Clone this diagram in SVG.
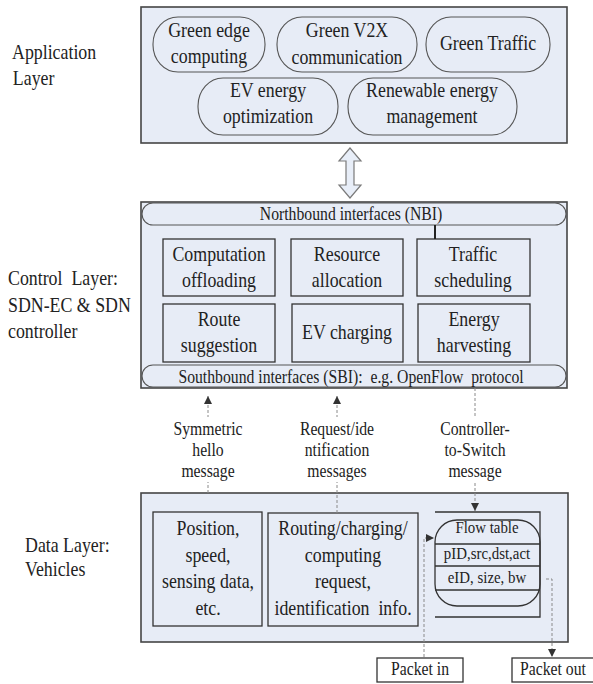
<svg xmlns="http://www.w3.org/2000/svg" width="593" height="684" viewBox="0 0 593 684">
  <style>
    text { font-family: "Liberation Serif", "Times New Roman", serif; fill: #222; }
    .t21 { font-size: 21px; }
    .t18 { font-size: 18.5px; }
    .t17 { font-size: 17.5px; }
    .mid { text-anchor: middle; }
    .layer { fill: #e7ecf6; stroke: #454545; stroke-width: 1.6; }
    .pill { fill: #e7ecf6; stroke: #555; stroke-width: 1.1; }
    .box { fill: #e7ecf6; stroke: #333; stroke-width: 1.3; }
    .plain { fill: #fff; stroke: #333; stroke-width: 1.3; }
    .line { fill: none; stroke: #333; stroke-width: 1.3; }
    .dash { fill: none; stroke: #8a8a8a; stroke-width: 1; stroke-dasharray: 3 2; }
  </style>
  <defs>
    <marker id="tri" viewBox="0 0 10 10" refX="10" refY="5" markerWidth="8" markerHeight="8" markerUnits="userSpaceOnUse" orient="auto">
      <path d="M0,0 L10,5 L0,10 z" fill="#333"/>
    </marker>
  </defs>

  <rect width="593" height="684" fill="#fff"/>

  <!-- layer captions -->
  <g id="captions">
    <g transform="translate(12 0) scale(0.85 1)">
      <text class="t21" x="0" y="59">Application</text>
      <text class="t21" x="1" y="85">Layer</text>
    </g>
    <g transform="translate(8 0) scale(0.85 1)">
      <text class="t21" x="0" y="285" xml:space="preserve">Control  Layer:</text>
      <text class="t21" x="0" y="312">SDN-EC &amp; SDN</text>
      <text class="t21" x="0" y="338">controller</text>
    </g>
    <g transform="translate(25 0) scale(0.85 1)">
      <text class="t21" x="0" y="552">Data Layer:</text>
      <text class="t21" x="0" y="576">Vehicles</text>
    </g>
  </g>

  <!-- application layer -->
  <g id="app-layer">
    <rect class="layer" x="141" y="7" width="426" height="136"/>
  </g>
  <g id="green-edge">
    <rect class="pill" x="153" y="17" width="112" height="55" rx="25" ry="27"/>
    <g transform="translate(209 0) scale(0.85 1)">
      <text class="t21 mid" x="0" y="37">Green edge</text>
      <text class="t21 mid" x="0" y="63">computing</text>
    </g>
  </g>
  <g id="green-v2x">
    <rect class="pill" x="277" y="17" width="140" height="55" rx="25" ry="27"/>
    <g transform="translate(347 0) scale(0.85 1)">
      <text class="t21 mid" x="0" y="37">Green V2X</text>
      <text class="t21 mid" x="0" y="64">communication</text>
    </g>
  </g>
  <g id="green-traffic">
    <rect class="pill" x="426" y="17" width="124" height="55" rx="25" ry="27"/>
    <g transform="translate(488 0) scale(0.85 1)">
      <text class="t21 mid" x="0" y="50">Green Traffic</text>
    </g>
  </g>
  <g id="ev-energy">
    <rect class="pill" x="198" y="78" width="140" height="57" rx="25" ry="28"/>
    <g transform="translate(268 0) scale(0.85 1)">
      <text class="t21 mid" x="0" y="97">EV energy</text>
      <text class="t21 mid" x="0" y="123">optimization</text>
    </g>
  </g>
  <g id="renewable">
    <rect class="pill" x="348" y="78" width="169" height="57" rx="25" ry="28"/>
    <g transform="translate(432 0) scale(0.85 1)">
      <text class="t21 mid" x="0" y="97">Renewable energy</text>
      <text class="t21 mid" x="0" y="123">management</text>
    </g>
  </g>

  <!-- control layer -->
  <g id="control-layer">
    <rect class="layer" x="141" y="202" width="426" height="186"/>
  </g>
  <g id="nbi">
    <rect class="pill" x="142" y="203" width="424" height="22" rx="11"/>
    <g transform="translate(351 0) scale(0.85 1)">
      <text class="t18 mid" x="0" y="220">Northbound interfaces (NBI)</text>
    </g>
  </g>
  <g id="sbi">
    <rect class="pill" x="142" y="365" width="424" height="22" rx="11"/>
    <g transform="translate(351 0) scale(0.85 1)">
      <text class="t18 mid" x="0" y="383" xml:space="preserve">Southbound interfaces (SBI):  e.g. OpenFlow  protocol</text>
    </g>
  </g>
  <g id="offloading">
    <rect class="box" x="163" y="239" width="112" height="57"/>
    <g transform="translate(219 0) scale(0.85 1)">
      <text class="t21 mid" x="0" y="261">Computation</text>
      <text class="t21 mid" x="0" y="287">offloading</text>
    </g>
  </g>
  <g id="resource">
    <rect class="box" x="291" y="239" width="112" height="57"/>
    <g transform="translate(347 0) scale(0.85 1)">
      <text class="t21 mid" x="0" y="261">Resource</text>
      <text class="t21 mid" x="0" y="287">allocation</text>
    </g>
  </g>
  <g id="traffic">
    <rect class="box" x="417" y="239" width="113" height="57"/>
    <g transform="translate(473 0) scale(0.85 1)">
      <text class="t21 mid" x="0" y="261">Traffic</text>
      <text class="t21 mid" x="0" y="287">scheduling</text>
    </g>
  </g>
  <g id="route">
    <rect class="box" x="163" y="304" width="112" height="58"/>
    <g transform="translate(219 0) scale(0.85 1)">
      <text class="t21 mid" x="0" y="326">Route</text>
      <text class="t21 mid" x="0" y="352">suggestion</text>
    </g>
  </g>
  <g id="ev-charging">
    <rect class="box" x="292" y="304" width="111" height="58"/>
    <g transform="translate(347 0) scale(0.85 1)">
      <text class="t21 mid" x="0" y="339">EV charging</text>
    </g>
  </g>
  <g id="harvesting">
    <rect class="box" x="418" y="304" width="112" height="58"/>
    <g transform="translate(474 0) scale(0.85 1)">
      <text class="t21 mid" x="0" y="326">Energy</text>
      <text class="t21 mid" x="0" y="352">harvesting</text>
    </g>
  </g>

  <!-- data layer -->
  <g id="data-layer">
    <rect class="layer" x="141" y="493" width="427" height="149"/>
  </g>
  <g id="vehicle-state">
    <rect class="box" x="153" y="512" width="109" height="114"/>
    <g transform="translate(208 0) scale(0.85 1)">
      <text class="t21 mid" x="0" y="535">Position,</text>
      <text class="t21 mid" x="0" y="562">speed,</text>
      <text class="t21 mid" x="0" y="588">sensing data,</text>
      <text class="t21 mid" x="0" y="615">etc.</text>
    </g>
  </g>
  <g id="vehicle-request">
    <rect class="box" x="268" y="513" width="150" height="113"/>
    <g transform="translate(343 0) scale(0.85 1)">
      <text class="t21 mid" x="0" y="535">Routing/charging/</text>
      <text class="t21 mid" x="0" y="562">computing</text>
      <text class="t21 mid" x="0" y="588">request,</text>
      <text class="t21 mid" x="0" y="615" xml:space="preserve">identification  info.</text>
    </g>
  </g>
  <g id="flow-table">
    <path class="line" d="M435,512 H540 V617 H435"/>
    <rect class="line" x="435" y="520" width="105" height="86" rx="22" ry="22"/>
    <path class="line" d="M435,544 H540 M435,566 H540 M435,590 H540"/>
    <g transform="translate(487 0) scale(0.85 1)">
      <text class="t17 mid" x="0" y="533">Flow table</text>
      <text class="t17 mid" x="0" y="559">pID,src,dst,act</text>
      <text class="t17 mid" x="0" y="583">eID, size, bw</text>
    </g>
  </g>
  <g id="packet-in">
    <rect class="plain" x="377" y="658" width="86" height="24"/>
    <g transform="translate(420 0) scale(0.85 1)">
      <text class="t18 mid" x="0" y="675">Packet in</text>
    </g>
  </g>
  <g id="packet-out">
    <rect class="plain" x="512" y="658" width="82" height="24"/>
    <g transform="translate(553 0) scale(0.85 1)">
      <text class="t18 mid" x="0" y="675">Packet out</text>
    </g>
  </g>

  <!-- connectors -->
  <g id="connectors">
    <path d="M350,148 L339,161 H346 V185 H339 L350,198 L361,185 H354 V161 H361 Z" fill="#e8eef8" stroke="#7a7a7a" stroke-width="1.2"/>
    <line x1="435" y1="225" x2="435" y2="239" stroke="#222" stroke-width="2"/>

    <line class="dash" x1="208" y1="493" x2="208" y2="396" marker-end="url(#tri)"/>
    <line class="dash" x1="337" y1="513" x2="337" y2="396" marker-end="url(#tri)"/>
    <line class="dash" x1="475" y1="388" x2="475" y2="511" marker-end="url(#tri)"/>
    <path class="dash" d="M424,657 V538 H434" marker-end="url(#tri)"/>
    <path class="dash" d="M546,579 H552 V657" marker-end="url(#tri)"/>

    <rect x="171" y="417" width="74" height="65" fill="#fff"/>
    <rect x="297" y="417" width="80" height="65" fill="#fff"/>
    <rect x="438" y="417" width="74" height="65" fill="#fff"/>
    <g transform="translate(208 0) scale(0.85 1)">
      <text class="t18 mid" x="0" y="435">Symmetric</text>
      <text class="t18 mid" x="0" y="456">hello</text>
      <text class="t18 mid" x="0" y="477">message</text>
    </g>
    <g transform="translate(337 0) scale(0.85 1)">
      <text class="t18 mid" x="0" y="435">Request/ide</text>
      <text class="t18 mid" x="0" y="456">ntification</text>
      <text class="t18 mid" x="0" y="477">messages</text>
    </g>
    <g transform="translate(475 0) scale(0.85 1)">
      <text class="t18 mid" x="0" y="435">Controller-</text>
      <text class="t18 mid" x="0" y="456">to-Switch</text>
      <text class="t18 mid" x="0" y="477">message</text>
    </g>
  </g>
</svg>
